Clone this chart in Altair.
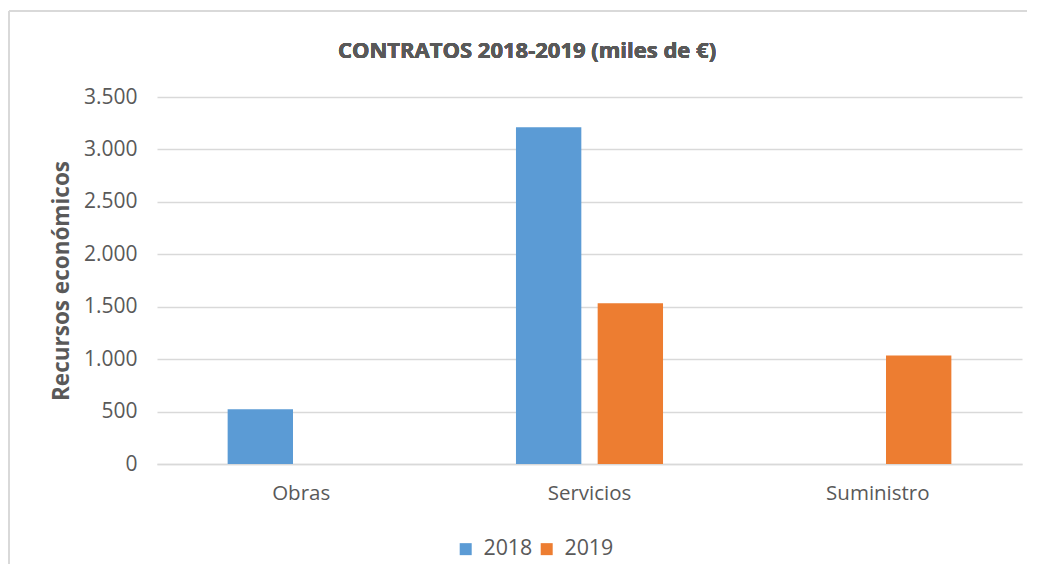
import altair as alt
import pandas as pd

categories = ["Obras", "Servicios", "Suministro"]
years = ["2018", "2019"]
values_2018 = [522, 3212, 0]
values_2019 = [0, 1533, 1035]
y_ticks = [0, 500, 1000, 1500, 2000, 2500, 3000, 3500]
title_text = "CONTRATOS 2018-2019 (miles de €)"

rows = []
for c, a, b in zip(categories, values_2018, values_2019):
    rows.append({"cat": c, "year": "2018", "val": a})
    rows.append({"cat": c, "year": "2019", "val": b})
df = pd.DataFrame(rows)

FONT = "Open Sans"
TXT = "#595959"
GRID = "#d9d9d9"

bars = alt.Chart(df).mark_bar().encode(
    x=alt.X("cat:N", sort=categories,
            scale=alt.Scale(paddingInner=0.49, paddingOuter=0.245),
            axis=alt.Axis(title=None, labelAngle=0, ticks=False, domainColor=GRID,
                          domainWidth=1.5, labelPadding=19, labelFontSize=20.5,
                          labelColor=TXT, labelFont=FONT)),
    xOffset=alt.XOffset("year:N", sort=years,
                        scale=alt.Scale(paddingInner=0.2, paddingOuter=0)),
    y=alt.Y("val:Q", scale=alt.Scale(domain=[0, 3500], nice=False),
            axis=alt.Axis(title="Recursos económicos", values=y_ticks,
                          labelExpr="replace(format(datum.value, ',.0f'), ',', '.')",
                          domain=False, ticks=False, gridColor=GRID, gridWidth=1.5,
                          labelPadding=20, labelFontSize=21, labelColor=TXT,
                          labelFont=FONT, titleFont=FONT, titleFontSize=22.5,
                          titleFontWeight="bold", titleColor=TXT, titlePadding=10)),
    color=alt.Color("year:N", sort=years,
                    scale=alt.Scale(domain=years, range=["#5B9BD5", "#ED7D31"]),
                    legend=alt.Legend(title=None, orient="none", direction="horizontal",
                                      legendX=298, legendY=441, symbolType="square",
                                      symbolSize=144, symbolStrokeWidth=0,
                                      labelFontSize=21.4, labelColor=TXT, labelFont=FONT,
                                      columnPadding=3, labelOffset=7)),
)

top_border = alt.Chart(df).mark_rule(color="#d9d9d9", strokeWidth=1.5).encode(
    x=alt.value(-148), x2=alt.value(880), y=alt.value(-86)
)
left_border = alt.Chart(df).mark_rule(color="#d9d9d9", strokeWidth=1.5).encode(
    x=alt.value(-148), y=alt.value(-86), y2=alt.value(480)
)
title = alt.Chart(df).mark_text(font=FONT, fontSize=22, fontWeight="bold", color=TXT,
                                align="center", baseline="middle").encode(
    x=alt.value(370), y=alt.value(-46), text=alt.value(title_text)
)

chart = alt.layer(top_border, left_border, bars, title).properties(
    width=865, height=367,
    padding={"left": 149, "top": 89, "right": 5, "bottom": 100},
    autosize=alt.AutoSizeParams(type="none"),
).configure_view(stroke=None)

chart.save("out.html", embed_options={"renderer": "svg", "actions": False})
